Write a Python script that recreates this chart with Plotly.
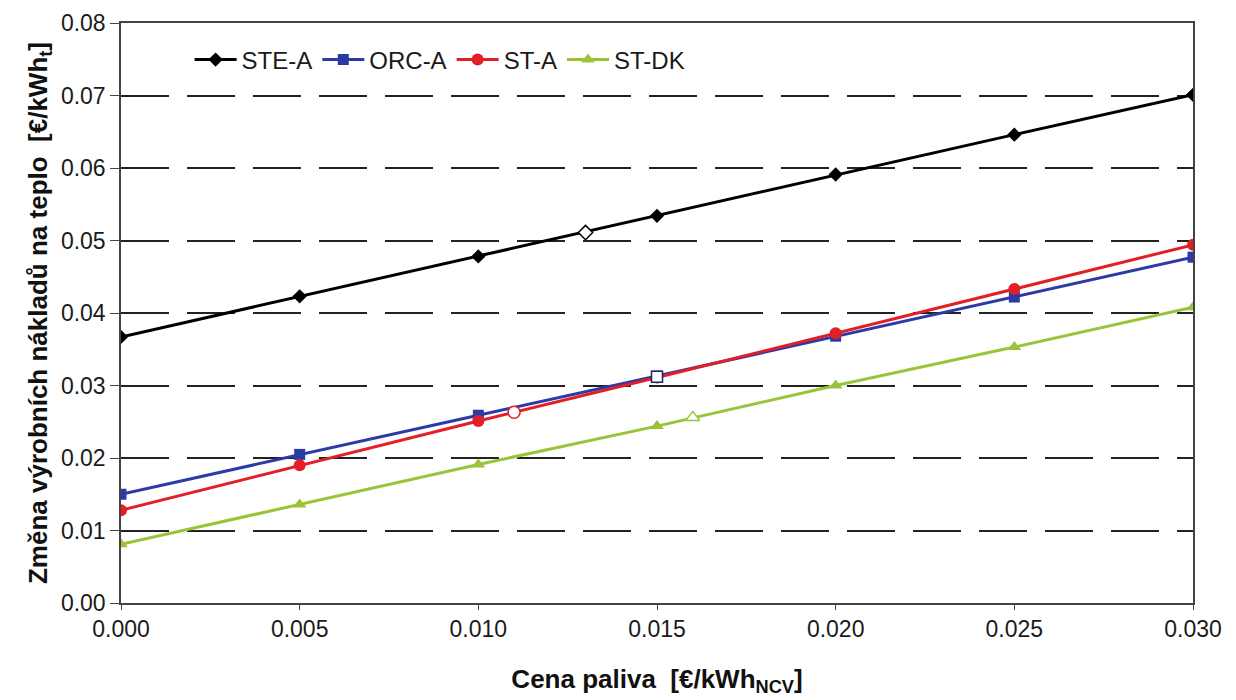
import plotly.graph_objects as go

# fuel price [EUR/kWh_NCV]
fuel_price = [0.000, 0.005, 0.010, 0.015, 0.020, 0.025, 0.030]

# change of heat production cost [EUR/kWh_t]
ste_a = [0.0367, 0.0423, 0.0478, 0.0534, 0.0591, 0.0646, 0.0701]
orc_a = [0.0150, 0.0205, 0.0259, 0.0313, 0.0368, 0.0422, 0.0477]
st_a = [0.0128, 0.0190, 0.0251, 0.0311, 0.0372, 0.0433, 0.0494]
st_dk = [0.0081, 0.0136, 0.0191, 0.0244, 0.0300, 0.0353, 0.0408]

# highlighted (current price) points, hollow markers
ste_a_mark = ([0.013], [0.0511])
orc_a_mark = ([0.015], [0.0312])
st_a_mark = ([0.011], [0.0263])
st_dk_mark = ([0.016], [0.0256])

series = [
    ("STE-A", ste_a, ste_a_mark, "#000000", "diamond", 11),
    ("ORC-A", orc_a, orc_a_mark, "#2B3BA6", "square", 11),
    ("ST-A", st_a, st_a_mark, "#E41E26", "circle", 12),
    ("ST-DK", st_dk, st_dk_mark, "#99C43A", "triangle-up", 12),
]

font_family = "Liberation Sans, Arial, sans-serif"

fig = go.Figure()

for name, ys, mark, color, symbol, size in series:
    fig.add_trace(
        go.Scatter(
            x=fuel_price,
            y=ys,
            name=name,
            mode="lines+markers",
            line=dict(color=color, width=3),
            marker=dict(symbol=symbol, size=size, color=color),
        )
    )

for name, ys, mark, color, symbol, size in series:
    fig.add_trace(
        go.Scatter(
            x=mark[0],
            y=mark[1],
            mode="markers",
            showlegend=False,
            marker=dict(
                symbol=symbol,
                size=size,
                color="white",
                line=dict(color=color if color != "#2B3BA6" else "#1F2466", width=1.5),
            ),
        )
    )

fig.update_layout(
    width=1236,
    height=700,
    margin=dict(l=113, r=51, t=15, b=105, autoexpand=False),
    paper_bgcolor="white",
    plot_bgcolor="white",
    font=dict(family=font_family, size=23, color="#1a1a1a"),
    showlegend=True,
    legend=dict(
        orientation="h",
        x=0.064,
        y=0.975,
        xanchor="left",
        yanchor="top",
        bgcolor="rgba(255,255,255,0)",
        font=dict(size=24, color="#1a1a1a"),
        itemwidth=42,
        tracegroupgap=0,
    ),
)

fig.update_xaxes(
    range=[0, 0.030],
    tickvals=fuel_price,
    tickformat=".3f",
    ticks="outside",
    ticklen=5,
    tickcolor="#444",
    tickfont=dict(size=23),
    showline=True,
    linecolor="#444",
    linewidth=1.5,
    mirror=True,
    showgrid=False,
    zeroline=False,
    automargin=False,
    title=dict(
        text="<b>Cena paliva  [€/kWh<sub>NCV</sub>]</b>",
        font=dict(size=26, color="#111"),
        standoff=28,
    ),
)

fig.update_yaxes(
    range=[0, 0.08],
    dtick=0.01,
    tickformat=".2f",
    ticks="outside",
    ticklen=9,
    tickcolor="#444",
    tickfont=dict(size=23),
    showline=True,
    linecolor="#444",
    linewidth=1.5,
    mirror=True,
    showgrid=True,
    gridcolor="#222",
    gridwidth=1.5,
    griddash="48px,18px",
    zeroline=False,
    automargin=False,
    title=dict(
        text="<b>Změna výrobních nákladů na teplo  [€/kWh<sub>t</sub>]</b>",
        font=dict(size=26, color="#111"),
        standoff=6,
    ),
)

fig.write_html("out.html")
